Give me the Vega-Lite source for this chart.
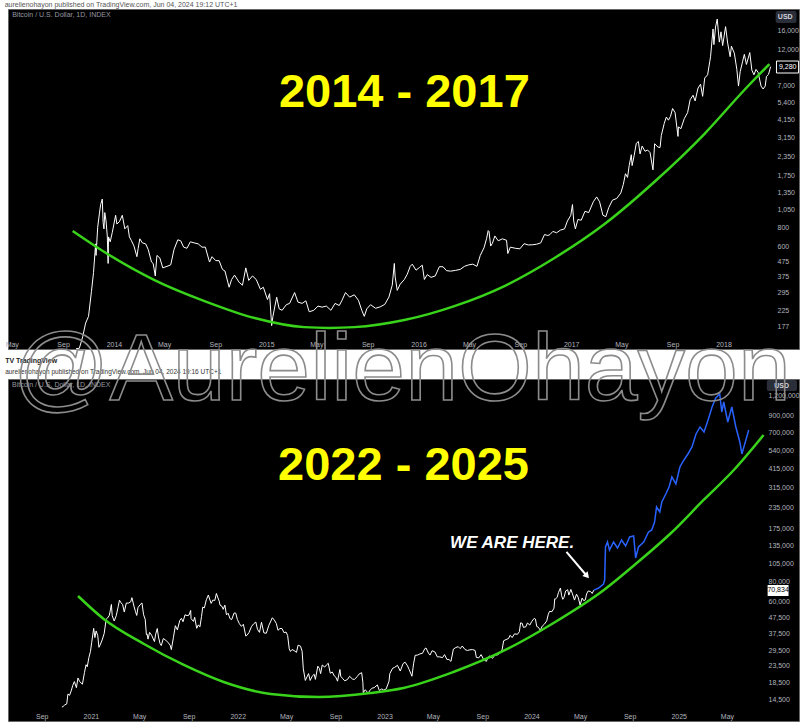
{
  "$schema": "https://vega.github.io/schema/vega-lite/v6.json",
  "background": "white",
  "padding": {"left": 4, "right": 5, "top": 0, "bottom": 4},
  "bounds": "flush",
  "spacing": 30,
  "title": {"text": "aurelienohayon published on TradingView.com, Jun 04, 2024 19:12 UTC+1", "anchor": "start", "fontSize": 7, "fontWeight": "normal", "color": "#555", "offset": 1, "font": "Liberation Sans"},
  "config": {
    "view": {"fill": "black", "stroke": "#666", "strokeWidth": 1},
    "axis": {"grid": false, "domain": false, "ticks": false, "labelColor": "#b2b5be", "labelFontSize": 7, "labelFont": "Liberation Sans", "title": null}
  },
  "datasets": {
    "top": [
      {"date":"2013-10-02","price":125},{"date":"2013-10-10","price":126},{"date":"2013-10-18","price":150},{"date":"2013-10-25","price":185},
      {"date":"2013-11-01","price":205},{"date":"2013-11-08","price":300},{"date":"2013-11-13","price":400},{"date":"2013-11-18","price":620},
      {"date":"2013-11-19","price":520},{"date":"2013-11-23","price":800},{"date":"2013-11-27","price":980},{"date":"2013-11-30","price":1130},
      {"date":"2013-12-04","price":1230},{"date":"2013-12-06","price":860},{"date":"2013-12-08","price":780},{"date":"2013-12-10","price":1000},
      {"date":"2013-12-13","price":880},{"date":"2013-12-16","price":700},{"date":"2013-12-18","price":460},{"date":"2013-12-19","price":690},
      {"date":"2013-12-23","price":640},{"date":"2013-12-28","price":740},{"date":"2014-01-05","price":960},{"date":"2014-01-08","price":840},
      {"date":"2014-01-14","price":870},{"date":"2014-01-21","price":960},{"date":"2014-01-27","price":780},{"date":"2014-02-03","price":820},
      {"date":"2014-02-07","price":690},{"date":"2014-02-12","price":650},{"date":"2014-02-18","price":600},{"date":"2014-02-25","price":510},
      {"date":"2014-02-28","price":580},{"date":"2014-03-04","price":670},{"date":"2014-03-10","price":630},{"date":"2014-03-18","price":620},
      {"date":"2014-03-24","price":570},{"date":"2014-04-01","price":470},{"date":"2014-04-05","price":460},{"date":"2014-04-10","price":380},
      {"date":"2014-04-14","price":520},{"date":"2014-04-21","price":500},{"date":"2014-04-28","price":430},{"date":"2014-05-08","price":440},
      {"date":"2014-05-17","price":450},{"date":"2014-05-25","price":570},{"date":"2014-06-03","price":660},{"date":"2014-06-10","price":650},
      {"date":"2014-06-17","price":590},{"date":"2014-06-25","price":580},{"date":"2014-07-03","price":640},{"date":"2014-07-12","price":630},
      {"date":"2014-07-22","price":620},{"date":"2014-07-31","price":590},{"date":"2014-08-08","price":590},{"date":"2014-08-18","price":470},
      {"date":"2014-08-24","price":510},{"date":"2014-09-02","price":480},{"date":"2014-09-10","price":480},{"date":"2014-09-18","price":420},
      {"date":"2014-09-24","price":410},{"date":"2014-10-04","price":320},{"date":"2014-10-10","price":360},{"date":"2014-10-17","price":385},
      {"date":"2014-10-28","price":345},{"date":"2014-11-05","price":330},{"date":"2014-11-13","price":430},{"date":"2014-11-20","price":355},
      {"date":"2014-11-29","price":380},{"date":"2014-12-08","price":360},{"date":"2014-12-18","price":310},{"date":"2014-12-25","price":320},
      {"date":"2015-01-04","price":265},{"date":"2015-01-09","price":290},{"date":"2015-01-14","price":178},{"date":"2015-01-17","price":205},
      {"date":"2015-01-26","price":275},{"date":"2015-02-01","price":230},{"date":"2015-02-08","price":225},{"date":"2015-02-18","price":245},
      {"date":"2015-02-26","price":250},{"date":"2015-03-10","price":295},{"date":"2015-03-18","price":255},{"date":"2015-03-28","price":250},
      {"date":"2015-04-06","price":260},{"date":"2015-04-14","price":220},{"date":"2015-04-25","price":225},{"date":"2015-05-05","price":240},
      {"date":"2015-05-15","price":236},{"date":"2015-05-25","price":240},{"date":"2015-06-05","price":225},{"date":"2015-06-15","price":250},
      {"date":"2015-06-25","price":242},{"date":"2015-07-01","price":260},{"date":"2015-07-10","price":295},{"date":"2015-07-20","price":275},
      {"date":"2015-07-31","price":285},{"date":"2015-08-10","price":262},{"date":"2015-08-18","price":225},{"date":"2015-08-24","price":205},
      {"date":"2015-08-30","price":230},{"date":"2015-09-08","price":245},{"date":"2015-09-20","price":232},{"date":"2015-10-01","price":237},
      {"date":"2015-10-12","price":246},{"date":"2015-10-22","price":275},{"date":"2015-10-30","price":330},{"date":"2015-11-04","price":460},
      {"date":"2015-11-06","price":375},{"date":"2015-11-11","price":305},{"date":"2015-11-18","price":335},{"date":"2015-11-28","price":360},
      {"date":"2015-12-05","price":390},{"date":"2015-12-12","price":440},{"date":"2015-12-17","price":455},{"date":"2015-12-26","price":415},
      {"date":"2016-01-03","price":432},{"date":"2016-01-10","price":448},{"date":"2016-01-15","price":360},{"date":"2016-01-22","price":388},
      {"date":"2016-01-31","price":372},{"date":"2016-02-10","price":380},{"date":"2016-02-20","price":438},{"date":"2016-02-29","price":437},
      {"date":"2016-03-08","price":412},{"date":"2016-03-18","price":409},{"date":"2016-03-30","price":414},{"date":"2016-04-10","price":420},
      {"date":"2016-04-20","price":440},{"date":"2016-04-30","price":450},{"date":"2016-05-10","price":455},{"date":"2016-05-20","price":440},
      {"date":"2016-05-28","price":520},{"date":"2016-06-06","price":585},{"date":"2016-06-12","price":670},{"date":"2016-06-16","price":760},
      {"date":"2016-06-18","price":750},{"date":"2016-06-22","price":600},{"date":"2016-06-26","price":625},{"date":"2016-07-02","price":700},
      {"date":"2016-07-10","price":650},{"date":"2016-07-20","price":670},{"date":"2016-07-30","price":655},{"date":"2016-08-02","price":535},
      {"date":"2016-08-08","price":590},{"date":"2016-08-20","price":580},{"date":"2016-08-31","price":575},{"date":"2016-09-10","price":622},
      {"date":"2016-09-20","price":610},{"date":"2016-10-01","price":612},{"date":"2016-10-10","price":617},{"date":"2016-10-20","price":630},
      {"date":"2016-10-29","price":715},{"date":"2016-11-06","price":705},{"date":"2016-11-11","price":715},{"date":"2016-11-18","price":750},
      {"date":"2016-11-27","price":735},{"date":"2016-12-06","price":765},{"date":"2016-12-16","price":780},{"date":"2016-12-23","price":880},
      {"date":"2016-12-31","price":960},{"date":"2017-01-04","price":1130},{"date":"2017-01-07","price":880},{"date":"2017-01-11","price":780},
      {"date":"2017-01-17","price":900},{"date":"2017-01-25","price":890},{"date":"2017-02-03","price":1020},{"date":"2017-02-12","price":1000},
      {"date":"2017-02-23","price":1180},{"date":"2017-03-03","price":1270},{"date":"2017-03-10","price":1180},{"date":"2017-03-18","price":960},
      {"date":"2017-03-25","price":940},{"date":"2017-04-01","price":1080},{"date":"2017-04-10","price":1210},{"date":"2017-04-20","price":1240},
      {"date":"2017-04-30","price":1350},{"date":"2017-05-06","price":1540},{"date":"2017-05-11","price":1810},{"date":"2017-05-16","price":1710},
      {"date":"2017-05-20","price":2050},{"date":"2017-05-25","price":2420},{"date":"2017-05-27","price":2050},{"date":"2017-06-01","price":2400},
      {"date":"2017-06-06","price":2880},{"date":"2017-06-11","price":2960},{"date":"2017-06-15","price":2450},{"date":"2017-06-20","price":2760},
      {"date":"2017-06-27","price":2550},{"date":"2017-07-03","price":2600},{"date":"2017-07-09","price":2500},{"date":"2017-07-16","price":1920},
      {"date":"2017-07-20","price":2860},{"date":"2017-07-28","price":2720},{"date":"2017-08-02","price":2700},{"date":"2017-08-05","price":3250},
      {"date":"2017-08-12","price":3900},{"date":"2017-08-17","price":4300},{"date":"2017-08-22","price":4100},{"date":"2017-08-27","price":4350},
      {"date":"2017-09-01","price":4900},{"date":"2017-09-07","price":4600},{"date":"2017-09-14","price":3200},{"date":"2017-09-15","price":3700},
      {"date":"2017-09-21","price":3600},{"date":"2017-09-29","price":4200},{"date":"2017-10-07","price":4600},{"date":"2017-10-13","price":5600},
      {"date":"2017-10-20","price":6000},{"date":"2017-10-25","price":5500},{"date":"2017-11-01","price":6700},{"date":"2017-11-07","price":7100},
      {"date":"2017-11-12","price":5900},{"date":"2017-11-17","price":7800},{"date":"2017-11-24","price":8200},{"date":"2017-11-29","price":10000},
      {"date":"2017-12-01","price":10800},{"date":"2017-12-07","price":16500},{"date":"2017-12-09","price":13000},{"date":"2017-12-13","price":17000},
      {"date":"2017-12-17","price":19200},{"date":"2017-12-22","price":13500},{"date":"2017-12-26","price":15800},{"date":"2017-12-30","price":12800},
      {"date":"2018-01-06","price":17100},{"date":"2018-01-11","price":13300},{"date":"2018-01-17","price":10800},{"date":"2018-01-20","price":12700},
      {"date":"2018-01-27","price":11400},{"date":"2018-02-02","price":8900},{"date":"2018-02-06","price":6900},{"date":"2018-02-10","price":8600},
      {"date":"2018-02-16","price":10100},{"date":"2018-02-20","price":11200},{"date":"2018-02-25","price":9600},{"date":"2018-03-05","price":11500},
      {"date":"2018-03-10","price":8800},{"date":"2018-03-15","price":8200},{"date":"2018-03-20","price":8900},{"date":"2018-03-25","price":8500},
      {"date":"2018-04-01","price":6900},{"date":"2018-04-06","price":6600},{"date":"2018-04-11","price":6900},{"date":"2018-04-14","price":8000},
      {"date":"2018-04-19","price":8250},{"date":"2018-04-24","price":9280}
    ],
    "topCurve": [
      {"date":"2013-09-24","price":755},{"date":"2013-12-09","price":548},{"date":"2014-04-08","price":357},{"date":"2014-08-06","price":259},
      {"date":"2014-12-04","price":200},{"date":"2015-04-02","price":174},{"date":"2015-06-01","price":172},{"date":"2015-07-31","price":174},
      {"date":"2015-11-28","price":194},{"date":"2016-03-27","price":240},{"date":"2016-07-25","price":326},{"date":"2016-11-22","price":500},
      {"date":"2017-03-22","price":840},{"date":"2017-07-19","price":1595},{"date":"2017-11-16","price":3319},{"date":"2018-02-20","price":6500},
      {"date":"2018-04-21","price":9665}
    ],
    "bot": [
      {"date":"2020-10-21","price":12900},{"date":"2020-10-24","price":13000},{"date":"2020-10-28","price":13300},{"date":"2020-11-02","price":13500},
      {"date":"2020-11-05","price":15600},{"date":"2020-11-09","price":15300},{"date":"2020-11-13","price":16300},{"date":"2020-11-17","price":17700},
      {"date":"2020-11-21","price":18700},{"date":"2020-11-26","price":17100},{"date":"2020-11-30","price":19700},{"date":"2020-12-04","price":18700},
      {"date":"2020-12-11","price":18000},{"date":"2020-12-16","price":21300},{"date":"2020-12-20","price":23900},{"date":"2020-12-23","price":23200},
      {"date":"2020-12-27","price":26500},{"date":"2020-12-31","price":29000},{"date":"2021-01-03","price":33000},{"date":"2021-01-08","price":40600},
      {"date":"2021-01-11","price":35500},{"date":"2021-01-14","price":39100},{"date":"2021-01-18","price":36600},{"date":"2021-01-21","price":30800},
      {"date":"2021-01-25","price":32300},{"date":"2021-01-29","price":34300},{"date":"2021-02-03","price":37600},{"date":"2021-02-08","price":46400},
      {"date":"2021-02-12","price":47400},{"date":"2021-02-16","price":49200},{"date":"2021-02-21","price":57500},{"date":"2021-02-23","price":48800},
      {"date":"2021-02-28","price":45200},{"date":"2021-03-05","price":48800},{"date":"2021-03-10","price":55900},{"date":"2021-03-13","price":61200},
      {"date":"2021-03-17","price":58900},{"date":"2021-03-21","price":57300},{"date":"2021-03-25","price":51500},{"date":"2021-03-30","price":58700},
      {"date":"2021-04-05","price":58700},{"date":"2021-04-10","price":59800},{"date":"2021-04-13","price":63500},{"date":"2021-04-18","price":56200},
      {"date":"2021-04-22","price":51700},{"date":"2021-04-25","price":49000},{"date":"2021-04-28","price":54900},{"date":"2021-05-03","price":57200},
      {"date":"2021-05-08","price":58800},{"date":"2021-05-12","price":49500},{"date":"2021-05-16","price":46400},{"date":"2021-05-19","price":37000},
      {"date":"2021-05-21","price":37300},{"date":"2021-05-23","price":34700},{"date":"2021-05-27","price":38300},{"date":"2021-06-01","price":36700},
      {"date":"2021-06-08","price":33500},{"date":"2021-06-11","price":37300},{"date":"2021-06-15","price":40500},{"date":"2021-06-18","price":35800},
      {"date":"2021-06-22","price":32500},{"date":"2021-06-25","price":31600},{"date":"2021-06-30","price":35000},{"date":"2021-07-06","price":34200},
      {"date":"2021-07-12","price":33000},{"date":"2021-07-17","price":31800},{"date":"2021-07-20","price":29800},{"date":"2021-07-25","price":35400},
      {"date":"2021-07-30","price":42200},{"date":"2021-08-04","price":39700},{"date":"2021-08-10","price":45600},{"date":"2021-08-14","price":47000},
      {"date":"2021-08-18","price":44700},{"date":"2021-08-23","price":49500},{"date":"2021-08-28","price":48900},{"date":"2021-09-02","price":49300},
      {"date":"2021-09-06","price":52700},{"date":"2021-09-07","price":46800},{"date":"2021-09-13","price":44900},{"date":"2021-09-16","price":47700},
      {"date":"2021-09-21","price":40600},{"date":"2021-09-25","price":42700},{"date":"2021-09-29","price":41500},{"date":"2021-10-03","price":48200},
      {"date":"2021-10-06","price":55300},{"date":"2021-10-10","price":54700},{"date":"2021-10-15","price":61600},{"date":"2021-10-20","price":66000},
      {"date":"2021-10-24","price":61300},{"date":"2021-10-27","price":58400},{"date":"2021-10-31","price":61300},{"date":"2021-11-05","price":61000},
      {"date":"2021-11-09","price":67500},{"date":"2021-11-12","price":64100},{"date":"2021-11-16","price":60300},{"date":"2021-11-18","price":56900},
      {"date":"2021-11-22","price":56300},{"date":"2021-11-26","price":53600},{"date":"2021-11-30","price":57000},{"date":"2021-12-04","price":49400},
      {"date":"2021-12-08","price":50600},{"date":"2021-12-13","price":46700},{"date":"2021-12-17","price":46200},{"date":"2021-12-23","price":50800},
      {"date":"2021-12-27","price":50700},{"date":"2021-12-31","price":46300},{"date":"2022-01-05","price":43500},{"date":"2022-01-10","price":41800},
      {"date":"2022-01-15","price":43100},{"date":"2022-01-21","price":36300},{"date":"2022-01-24","price":36700},{"date":"2022-01-29","price":38200},
      {"date":"2022-02-04","price":41600},{"date":"2022-02-10","price":43500},{"date":"2022-02-15","price":44500},{"date":"2022-02-19","price":40100},
      {"date":"2022-02-24","price":38300},{"date":"2022-03-01","price":44400},{"date":"2022-03-07","price":38000},{"date":"2022-03-13","price":37800},
      {"date":"2022-03-19","price":42200},{"date":"2022-03-28","price":47400},{"date":"2022-04-02","price":45800},{"date":"2022-04-07","price":43500},
      {"date":"2022-04-11","price":39500},{"date":"2022-04-16","price":40500},{"date":"2022-04-21","price":40500},{"date":"2022-04-26","price":38100},
      {"date":"2022-05-01","price":38500},{"date":"2022-05-05","price":36600},{"date":"2022-05-09","price":30100},{"date":"2022-05-12","price":29000},
      {"date":"2022-05-16","price":29800},{"date":"2022-05-21","price":29400},{"date":"2022-05-27","price":28600},{"date":"2022-05-31","price":31800},
      {"date":"2022-06-06","price":31300},{"date":"2022-06-10","price":29100},{"date":"2022-06-13","price":22500},{"date":"2022-06-18","price":19000},
      {"date":"2022-06-22","price":20000},{"date":"2022-06-26","price":21000},{"date":"2022-06-30","price":19000},{"date":"2022-07-05","price":20200},
      {"date":"2022-07-10","price":20800},{"date":"2022-07-13","price":19300},{"date":"2022-07-19","price":23400},{"date":"2022-07-23","price":22600},
      {"date":"2022-07-26","price":21000},{"date":"2022-07-30","price":23800},{"date":"2022-08-05","price":23100},{"date":"2022-08-10","price":23900},
      {"date":"2022-08-14","price":24400},{"date":"2022-08-19","price":21100},{"date":"2022-08-24","price":21500},{"date":"2022-08-29","price":20300},
      {"date":"2022-09-02","price":19900},{"date":"2022-09-06","price":18800},{"date":"2022-09-12","price":22300},{"date":"2022-09-14","price":20200},
      {"date":"2022-09-19","price":19500},{"date":"2022-09-24","price":18900},{"date":"2022-10-01","price":19300},{"date":"2022-10-06","price":20200},
      {"date":"2022-10-13","price":19400},{"date":"2022-10-18","price":19300},{"date":"2022-10-25","price":20100},{"date":"2022-10-29","price":20800},
      {"date":"2022-11-05","price":21300},{"date":"2022-11-08","price":18500},{"date":"2022-11-09","price":15900},{"date":"2022-11-14","price":16600},
      {"date":"2022-11-21","price":15800},{"date":"2022-11-26","price":16500},{"date":"2022-12-01","price":17000},{"date":"2022-12-06","price":17100},
      {"date":"2022-12-14","price":17800},{"date":"2022-12-19","price":16400},{"date":"2022-12-25","price":16800},{"date":"2022-12-30","price":16500},
      {"date":"2023-01-05","price":16800},{"date":"2023-01-12","price":18800},{"date":"2023-01-14","price":21000},{"date":"2023-01-21","price":22700},
      {"date":"2023-01-26","price":23000},{"date":"2023-02-02","price":23700},{"date":"2023-02-09","price":21800},{"date":"2023-02-16","price":24300},
      {"date":"2023-02-21","price":24800},{"date":"2023-02-27","price":23500},{"date":"2023-03-03","price":22300},{"date":"2023-03-10","price":20200},
      {"date":"2023-03-14","price":24200},{"date":"2023-03-18","price":27400},{"date":"2023-03-24","price":27500},{"date":"2023-03-30","price":28000},
      {"date":"2023-04-05","price":28200},{"date":"2023-04-11","price":30200},{"date":"2023-04-14","price":30500},{"date":"2023-04-20","price":28300},
      {"date":"2023-04-24","price":27500},{"date":"2023-04-29","price":29300},{"date":"2023-05-06","price":28800},{"date":"2023-05-12","price":26800},
      {"date":"2023-05-18","price":26800},{"date":"2023-05-25","price":26500},{"date":"2023-05-30","price":27700},{"date":"2023-06-05","price":25800},
      {"date":"2023-06-10","price":25800},{"date":"2023-06-15","price":25100},{"date":"2023-06-21","price":30000},{"date":"2023-06-27","price":30700},
      {"date":"2023-07-03","price":31100},{"date":"2023-07-08","price":30200},{"date":"2023-07-13","price":31400},{"date":"2023-07-20","price":29800},
      {"date":"2023-07-26","price":29400},{"date":"2023-08-01","price":29700},{"date":"2023-08-08","price":29800},{"date":"2023-08-14","price":29400},
      {"date":"2023-08-17","price":26600},{"date":"2023-08-23","price":26400},{"date":"2023-08-29","price":27700},{"date":"2023-09-04","price":25800},
      {"date":"2023-09-11","price":25100},{"date":"2023-09-15","price":26600},{"date":"2023-09-20","price":27200},{"date":"2023-09-26","price":26200},
      {"date":"2023-10-02","price":27500},{"date":"2023-10-09","price":27600},{"date":"2023-10-16","price":28500},{"date":"2023-10-20","price":29700},
      {"date":"2023-10-24","price":33900},{"date":"2023-10-30","price":34500},{"date":"2023-11-05","price":35000},{"date":"2023-11-09","price":36700},
      {"date":"2023-11-14","price":35500},{"date":"2023-11-20","price":37500},{"date":"2023-11-27","price":37200},{"date":"2023-12-02","price":38700},
      {"date":"2023-12-05","price":44000},{"date":"2023-12-09","price":43700},{"date":"2023-12-12","price":41200},{"date":"2023-12-18","price":41500},
      {"date":"2023-12-22","price":43900},{"date":"2023-12-28","price":42600},{"date":"2024-01-02","price":45000},{"date":"2024-01-08","price":47000},
      {"date":"2024-01-11","price":46500},{"date":"2024-01-14","price":41800},{"date":"2024-01-18","price":41300},{"date":"2024-01-23","price":39500},
      {"date":"2024-01-28","price":42000},{"date":"2024-02-02","price":43100},{"date":"2024-02-08","price":45300},{"date":"2024-02-12","price":49900},
      {"date":"2024-02-15","price":52000},{"date":"2024-02-21","price":51800},{"date":"2024-02-26","price":54500},{"date":"2024-02-28","price":62500},
      {"date":"2024-03-01","price":62400},{"date":"2024-03-05","price":63800},{"date":"2024-03-08","price":68300},{"date":"2024-03-13","price":73100},
      {"date":"2024-03-16","price":65300},{"date":"2024-03-19","price":62000},{"date":"2024-03-22","price":63800},{"date":"2024-03-26","price":70000},
      {"date":"2024-03-31","price":71300},{"date":"2024-04-03","price":65900},{"date":"2024-04-08","price":71600},{"date":"2024-04-12","price":67100},
      {"date":"2024-04-17","price":61300},{"date":"2024-04-22","price":66800},{"date":"2024-04-26","price":64000},{"date":"2024-05-01","price":57000},
      {"date":"2024-05-06","price":63200},{"date":"2024-05-10","price":60800},{"date":"2024-05-14","price":61500},{"date":"2024-05-17","price":67000},
      {"date":"2024-05-21","price":70000},{"date":"2024-05-27","price":69400},{"date":"2024-05-31","price":67500},{"date":"2024-06-04","price":70834}
    ],
    "proj": [
      {"date":"2024-06-04","price":70834},{"date":"2024-06-16","price":73100},{"date":"2024-06-28","price":77500},{"date":"2024-07-01","price":82100},
      {"date":"2024-07-03","price":132900},{"date":"2024-07-08","price":143000},{"date":"2024-07-13","price":127200},{"date":"2024-07-23","price":143000},
      {"date":"2024-08-02","price":131000},{"date":"2024-08-12","price":147200},{"date":"2024-08-22","price":134900},{"date":"2024-09-01","price":153800},
      {"date":"2024-09-11","price":156100},{"date":"2024-09-16","price":113200},{"date":"2024-09-23","price":132900},{"date":"2024-10-06","price":143000},
      {"date":"2024-10-18","price":165300},{"date":"2024-10-26","price":170200},{"date":"2024-11-02","price":191300},{"date":"2024-11-07","price":238100},
      {"date":"2024-11-15","price":221300},{"date":"2024-11-20","price":256000},{"date":"2024-11-30","price":287700},{"date":"2024-12-08","price":318700},
      {"date":"2024-12-15","price":368600},{"date":"2024-12-25","price":332900},{"date":"2025-01-04","price":426500},{"date":"2025-01-14","price":472200},
      {"date":"2025-01-24","price":515400},{"date":"2025-02-03","price":570700},{"date":"2025-02-13","price":690000},{"date":"2025-02-23","price":763800},
      {"date":"2025-03-05","price":710300},{"date":"2025-03-15","price":845800},{"date":"2025-03-25","price":1022000},{"date":"2025-04-03","price":1165000},
      {"date":"2025-04-13","price":1235000},{"date":"2025-04-18","price":950400},{"date":"2025-04-23","price":1099600},{"date":"2025-05-03","price":821400},
      {"date":"2025-05-13","price":1022000},{"date":"2025-05-23","price":763800},{"date":"2025-06-02","price":613800},{"date":"2025-06-07","price":515400},
      {"date":"2025-06-12","price":570700},{"date":"2025-06-17","price":631800},{"date":"2025-06-24","price":731100}
    ],
    "botCurve": [
      {"date":"2020-11-30","price":65070},{"date":"2021-02-02","price":46530},{"date":"2021-05-13","price":32330},{"date":"2021-08-20","price":23810},
      {"date":"2021-11-27","price":18580},{"date":"2022-03-24","price":15600},{"date":"2022-07-21","price":14930},{"date":"2022-11-27","price":15830},
      {"date":"2023-02-17","price":17030},{"date":"2023-06-21","price":21500},{"date":"2023-10-23","price":29200},{"date":"2024-02-25","price":43900},
      {"date":"2024-06-29","price":71020},{"date":"2024-09-19","price":105240},{"date":"2024-12-13","price":162960},{"date":"2025-03-04","price":263600},
      {"date":"2025-05-18","price":408200},{"date":"2025-07-31","price":679800}
    ]
  },
  "vconcat": [
    {
      "width": 791,
      "height": 340,
      "title": {"text": "TV TradingView", "subtitle": "aurelienohayon published on TradingView.com, Jun 04, 2024 19:16 UTC+1", "orient": "bottom", "anchor": "start", "font": "Liberation Sans", "fontSize": 7, "fontWeight": "bold", "color": "#222", "subtitleFont": "Liberation Sans", "subtitleFontSize": 6.5, "subtitleColor": "#333", "offset": 6, "subtitlePadding": 5},
      "layer": [
        {
          "data": {"name": "top"},
          "mark": {"type": "line", "color": "white", "strokeWidth": 1},
          "encoding": {
            "x": {"field": "date", "type": "temporal",
              "scale": {"type": "utc", "nice": false, "domain": [{"year": 2013, "month": 4, "date": 22, "utc": true}, {"year": 2018, "month": 7, "date": 1, "utc": true}]},
              "axis": {"orient": "bottom", "offset": -11, "labelPadding": 2, "labelFlush": false, "labelOverlap": false,
                "values": [{"year":2013,"month":5,"date":1,"utc":true},{"year":2013,"month":9,"date":1,"utc":true},{"year":2014,"month":1,"date":1,"utc":true},{"year":2014,"month":5,"date":1,"utc":true},{"year":2014,"month":9,"date":1,"utc":true},{"year":2015,"month":1,"date":1,"utc":true},{"year":2015,"month":5,"date":1,"utc":true},{"year":2015,"month":9,"date":1,"utc":true},{"year":2016,"month":1,"date":1,"utc":true},{"year":2016,"month":5,"date":1,"utc":true},{"year":2016,"month":9,"date":1,"utc":true},{"year":2017,"month":1,"date":1,"utc":true},{"year":2017,"month":5,"date":1,"utc":true},{"year":2017,"month":9,"date":1,"utc":true},{"year":2018,"month":1,"date":1,"utc":true}],
                "labelExpr": "utcmonth(datum.value) === 0 ? utcFormat(datum.value, '%Y') : utcFormat(datum.value, '%b')"}},
            "y": {"field": "price", "type": "quantitative",
              "scale": {"type": "log", "nice": false, "domain": [124.6, 22385]},
              "axis": {"orient": "right", "offset": -22, "labelPadding": 0, "labelAlign": "left", "format": ",",
                "values": [177, 225, 295, 375, 475, 600, 800, 1050, 1350, 1750, 2350, 3150, 4150, 5400, 7000, 12000, 16000]}}
          }
        },
        {
          "data": {"name": "topCurve"},
          "mark": {"type": "line", "color": "#39d31b", "strokeWidth": 2.5, "interpolate": "monotone"},
          "encoding": {"x": {"field": "date", "type": "temporal"}, "y": {"field": "price", "type": "quantitative"}}
        },
        {
          "data": {"values": [{"date": "2015-11-28", "price": 5000, "label": "2014 - 2017"}]},
          "mark": {"type": "text", "font": "Liberation Sans", "fontWeight": "bold", "fontSize": 47, "color": "#ffff00", "align": "center", "baseline": "alphabetic"},
          "encoding": {"x": {"field": "date", "type": "temporal"}, "y": {"field": "price", "type": "quantitative"}, "text": {"field": "label"}}
        },
        {
          "data": {"values": [{"date": "2013-05-02", "price": 20420, "label": "Bitcoin / U.S. Dollar, 1D, INDEX"}]},
          "mark": {"type": "text", "font": "Liberation Sans", "fontSize": 7, "color": "#9598a1", "align": "left", "baseline": "middle"},
          "encoding": {"x": {"field": "date", "type": "temporal"}, "y": {"field": "price", "type": "quantitative"}, "text": {"field": "label"}}
        },
        {
          "data": {"values": [{"date": "2018-05-06", "date2": "2018-06-25", "price": 21710, "price2": 18080}]},
          "mark": {"type": "rect", "color": "#2a2e39", "cornerRadius": 2},
          "encoding": {"x": {"field": "date", "type": "temporal"}, "x2": {"field": "date2"}, "y": {"field": "price", "type": "quantitative"}, "y2": {"field": "price2"}}
        },
        {
          "data": {"values": [{"date": "2018-05-29", "price": 19800, "label": "USD"}]},
          "mark": {"type": "text", "font": "Liberation Sans", "fontSize": 7, "fontWeight": "bold", "color": "#d1d4dc", "align": "center", "baseline": "middle"},
          "encoding": {"x": {"field": "date", "type": "temporal"}, "y": {"field": "price", "type": "quantitative"}, "text": {"field": "label"}}
        },
        {
          "data": {"values": [{"date": "2018-05-08", "date2": "2018-06-30", "price": 10115, "price2": 8424}]},
          "mark": {"type": "rect", "color": "black", "stroke": "white", "strokeWidth": 1},
          "encoding": {"x": {"field": "date", "type": "temporal"}, "x2": {"field": "date2"}, "y": {"field": "price", "type": "quantitative"}, "y2": {"field": "price2"}}
        },
        {
          "data": {"values": [{"date": "2018-06-04", "price": 9280, "label": "9,280"}]},
          "mark": {"type": "text", "font": "Liberation Sans", "fontSize": 7, "color": "white", "align": "center", "baseline": "middle"},
          "encoding": {"x": {"field": "date", "type": "temporal"}, "y": {"field": "price", "type": "quantitative"}, "text": {"field": "label"}}
        }
      ]
    },
    {
      "width": 791,
      "height": 342,
      "layer": [
        {
          "data": {"name": "bot"},
          "mark": {"type": "line", "color": "white", "strokeWidth": 1},
          "encoding": {
            "x": {"field": "date", "type": "temporal",
              "scale": {"type": "utc", "nice": false, "domain": [{"year": 2020, "month": 6, "date": 9, "utc": true}, {"year": 2025, "month": 10, "date": 27, "utc": true}]},
              "axis": {"orient": "bottom", "offset": -11, "labelPadding": 2, "labelFlush": false, "labelOverlap": false,
                "values": [{"year":2020,"month":9,"date":1,"utc":true},{"year":2021,"month":1,"date":1,"utc":true},{"year":2021,"month":5,"date":1,"utc":true},{"year":2021,"month":9,"date":1,"utc":true},{"year":2022,"month":1,"date":1,"utc":true},{"year":2022,"month":5,"date":1,"utc":true},{"year":2022,"month":9,"date":1,"utc":true},{"year":2023,"month":1,"date":1,"utc":true},{"year":2023,"month":5,"date":1,"utc":true},{"year":2023,"month":9,"date":1,"utc":true},{"year":2024,"month":1,"date":1,"utc":true},{"year":2024,"month":5,"date":1,"utc":true},{"year":2024,"month":9,"date":1,"utc":true},{"year":2025,"month":1,"date":1,"utc":true},{"year":2025,"month":5,"date":1,"utc":true}],
                "labelExpr": "utcmonth(datum.value) === 0 ? utcFormat(datum.value, '%Y') : utcFormat(datum.value, '%b')"}},
            "y": {"field": "price", "type": "quantitative",
              "scale": {"type": "log", "nice": false, "domain": [10525, 1537000]},
              "axis": {"orient": "right", "offset": -31, "labelPadding": 0, "labelAlign": "left", "format": ",",
                "values": [14500, 18500, 23500, 29500, 37500, 47500, 60000, 80000, 105000, 135000, 175000, 235000, 315000, 415000, 540000, 700000, 900000, 1200000]}}
          }
        },
        {
          "data": {"name": "proj"},
          "mark": {"type": "line", "color": "#2962ff", "strokeWidth": 1.5},
          "encoding": {"x": {"field": "date", "type": "temporal"}, "y": {"field": "price", "type": "quantitative"}}
        },
        {
          "data": {"name": "botCurve"},
          "mark": {"type": "line", "color": "#39d31b", "strokeWidth": 2.5, "interpolate": "monotone"},
          "encoding": {"x": {"field": "date", "type": "temporal"}, "y": {"field": "price", "type": "quantitative"}}
        },
        {
          "data": {"values": [{"date": "2023-02-17", "price": 352800, "label": "2022 - 2025"}]},
          "mark": {"type": "text", "font": "Liberation Sans", "fontWeight": "bold", "fontSize": 47, "color": "#ffff00", "align": "center", "baseline": "alphabetic"},
          "encoding": {"x": {"field": "date", "type": "temporal"}, "y": {"field": "price", "type": "quantitative"}, "text": {"field": "label"}}
        },
        {
          "data": {"values": [{"date": "2023-11-14", "price": 131000, "label": "WE ARE HERE."}]},
          "mark": {"type": "text", "font": "Liberation Sans", "fontWeight": "bold", "fontStyle": "italic", "fontSize": 17, "color": "white", "align": "center", "baseline": "alphabetic"},
          "encoding": {"x": {"field": "date", "type": "temporal"}, "y": {"field": "price", "type": "quantitative"}, "text": {"field": "label"}}
        },
        {
          "data": {"values": [{"date": "2024-03-28", "date2": "2024-05-18", "price": 123600, "price2": 87100}]},
          "mark": {"type": "rule", "color": "white", "strokeWidth": 2},
          "encoding": {"x": {"field": "date", "type": "temporal"}, "x2": {"field": "date2"}, "y": {"field": "price", "type": "quantitative"}, "y2": {"field": "price2"}}
        },
        {
          "data": {"values": [{"date": "2024-05-18", "price": 87100}]},
          "mark": {"type": "point", "shape": "triangle-up", "angle": 140, "size": 50, "filled": true, "color": "white", "opacity": 1},
          "encoding": {"x": {"field": "date", "type": "temporal"}, "y": {"field": "price", "type": "quantitative"}}
        },
        {
          "data": {"values": [{"date": "2020-06-19", "price": 1408000, "label": "Bitcoin / U.S. Dollar, 1D, INDEX"}]},
          "mark": {"type": "text", "font": "Liberation Sans", "fontSize": 7, "color": "#9598a1", "align": "left", "baseline": "middle"},
          "encoding": {"x": {"field": "date", "type": "temporal"}, "y": {"field": "price", "type": "quantitative"}, "text": {"field": "label"}}
        },
        {
          "data": {"values": [{"date": "2025-08-08", "date2": "2025-10-22", "price": 1515000, "price2": 1291000}]},
          "mark": {"type": "rect", "color": "#2a2e39", "cornerRadius": 2},
          "encoding": {"x": {"field": "date", "type": "temporal"}, "x2": {"field": "date2"}, "y": {"field": "price", "type": "quantitative"}, "y2": {"field": "price2"}}
        },
        {
          "data": {"values": [{"date": "2025-09-14", "price": 1388000, "label": "USD"}]},
          "mark": {"type": "text", "font": "Liberation Sans", "fontSize": 7, "fontWeight": "bold", "color": "#d1d4dc", "align": "center", "baseline": "middle"},
          "encoding": {"x": {"field": "date", "type": "temporal"}, "y": {"field": "price", "type": "quantitative"}, "text": {"field": "label"}}
        },
        {
          "data": {"values": [{"date": "2025-08-10", "date2": "2025-10-01", "price": 76380, "price2": 65070}]},
          "mark": {"type": "rect", "color": "white"},
          "encoding": {"x": {"field": "date", "type": "temporal"}, "x2": {"field": "date2"}, "y": {"field": "price", "type": "quantitative"}, "y2": {"field": "price2"}}
        },
        {
          "data": {"values": [{"date": "2025-09-05", "price": 70834, "label": "70,834"}]},
          "mark": {"type": "text", "font": "Liberation Sans", "fontSize": 7, "color": "black", "align": "center", "baseline": "middle"},
          "encoding": {"x": {"field": "date", "type": "temporal"}, "y": {"field": "price", "type": "quantitative"}, "text": {"field": "label"}}
        },
        {
          "data": {"values": [{"date": "2023-02-13", "price": 1140000, "label": "@AurelienOhayon"}]},
          "mark": {"type": "text", "font": "Liberation Sans", "fontSize": 95, "fontWeight": "normal", "fill": "transparent", "stroke": "#8c8c8c", "strokeWidth": 1.6, "align": "center", "baseline": "alphabetic"},
          "encoding": {"x": {"field": "date", "type": "temporal"}, "y": {"field": "price", "type": "quantitative"}, "text": {"field": "label"}}
        }
      ]
    }
  ]
}
